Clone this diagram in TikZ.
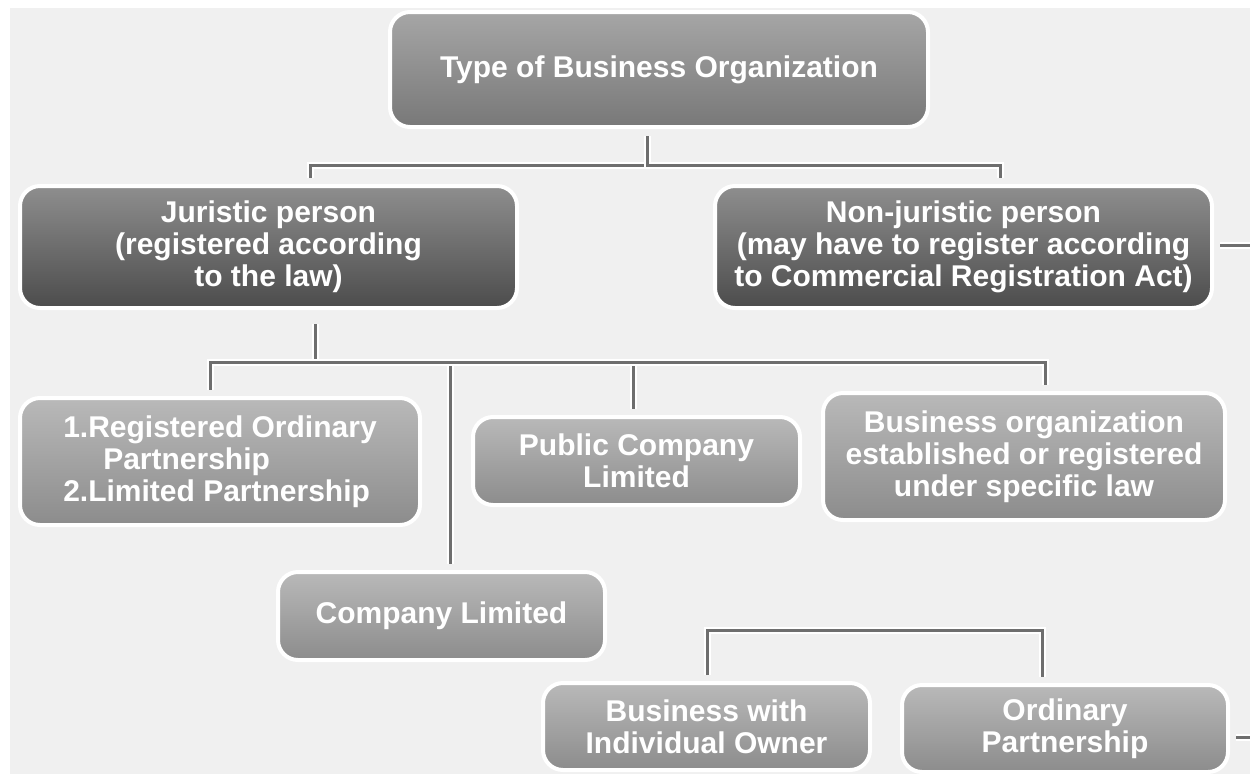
\documentclass[tikz,border=0pt]{standalone}
\usepackage{fontspec}
\setmainfont{Liberation Sans}

\definecolor{paper}{HTML}{F0F0F0}
\definecolor{topA}{HTML}{A6A6A6}
\definecolor{topB}{HTML}{787878}
\definecolor{darkA}{HTML}{8E8E8E}
\definecolor{darkB}{HTML}{4C4C4C}
\definecolor{lightA}{HTML}{B9B9B9}
\definecolor{lightB}{HTML}{8C8C8C}
\definecolor{linkgray}{HTML}{6E6E6E}

\tikzset{
  orgbox/.style={rectangle, rounded corners=20pt, draw=white, line width=4pt,
    inner sep=0pt, text=white, align=center,
    font=\fontsize{30}{32}\selectfont\bfseries},
  topbox/.style={orgbox, top color=topA, bottom color=topB},
  darkbox/.style={orgbox, top color=darkA, bottom color=darkB},
  lightbox/.style={orgbox, top color=lightA, bottom color=lightB},
  link/.style={draw=linkgray, line width=3pt,
    preaction={draw=white, line width=7pt}},
}

\begin{document}
\begin{tikzpicture}[x=1pt, y=-1pt]
  \useasboundingbox (0,0) rectangle (1250,774);
  \fill[white] (0,0) rectangle (1250,774);
  \fill[paper] (10,8) rectangle (1250,774);

  % boxes
  \node[topbox, minimum width=538pt, minimum height=115pt] (type) at (659,69.5)
    {Type of Business Organization};
  \node[darkbox, minimum width=497pt, minimum height=122pt] (jur) at (268.5,247)
    {Juristic person\\(registered according\\to the law)};
  \node[darkbox, minimum width=497pt, minimum height=122pt] (nonjur) at (963.5,247)
    {Non-juristic person\\(may have to register according\\to Commercial Registration Act)};
  \node[lightbox, minimum width=400pt, minimum height=127pt, align=left] (rop) at (220,461.5)
    {1.Registered Ordinary\\\hspace*{40pt}Partnership\\2.Limited Partnership};
  \node[lightbox, minimum width=327pt, minimum height=88pt] (pcl) at (636.5,461)
    {Public Company\\Limited};
  \node[lightbox, minimum width=402pt, minimum height=127pt] (bos) at (1024,456.5)
    {Business organization\\established or registered\\under specific law};
  \node[lightbox, minimum width=327pt, minimum height=88pt] (cl) at (441.5,616)
    {Company Limited};
  \node[lightbox, minimum width=327pt, minimum height=87pt] (bwi) at (706.5,726.5)
    {Business with\\Individual Owner};
  \node[lightbox, minimum width=326pt, minimum height=87pt] (op) at (1065,728.5)
    {Ordinary\\Partnership};

  \coordinate (edgeA) at (1250,245);
  \coordinate (edgeB) at (1250,737);

  % connectors
  \draw[link, shorten <=7pt, shorten >=6pt] ([xshift=-12pt]type.south) -- ++(0,36) -| ([xshift=42pt]jur.north);
  \draw[link, shorten <=7pt, shorten >=6pt] ([xshift=-12pt]type.south) -- ++(0,36) -| ([xshift=36.5pt]nonjur.north);

  \draw[link, shorten <=14pt] ([xshift=46.5pt]jur.south) -- ++(0,52) coordinate (fork);
  \foreach \n/\dx in {rop/-10, cl/8.5, pcl/-3.5, bos/21}
    \draw[link, shorten >=6pt] (fork) -| ([xshift=\dx pt]\n.north);

  \draw[link, shorten <=6pt, shorten >=6pt] ([xshift=0.5pt]bwi.north) -- ++(0,-51) -| ([xshift=-23pt]op.north);

  \draw[link, shorten <=6pt] ([yshift=2pt]nonjur.east) -- (edgeA);
  \draw[link, shorten <=6pt] ([yshift=-8.5pt]op.east) -- (edgeB);
\end{tikzpicture}
\end{document}
